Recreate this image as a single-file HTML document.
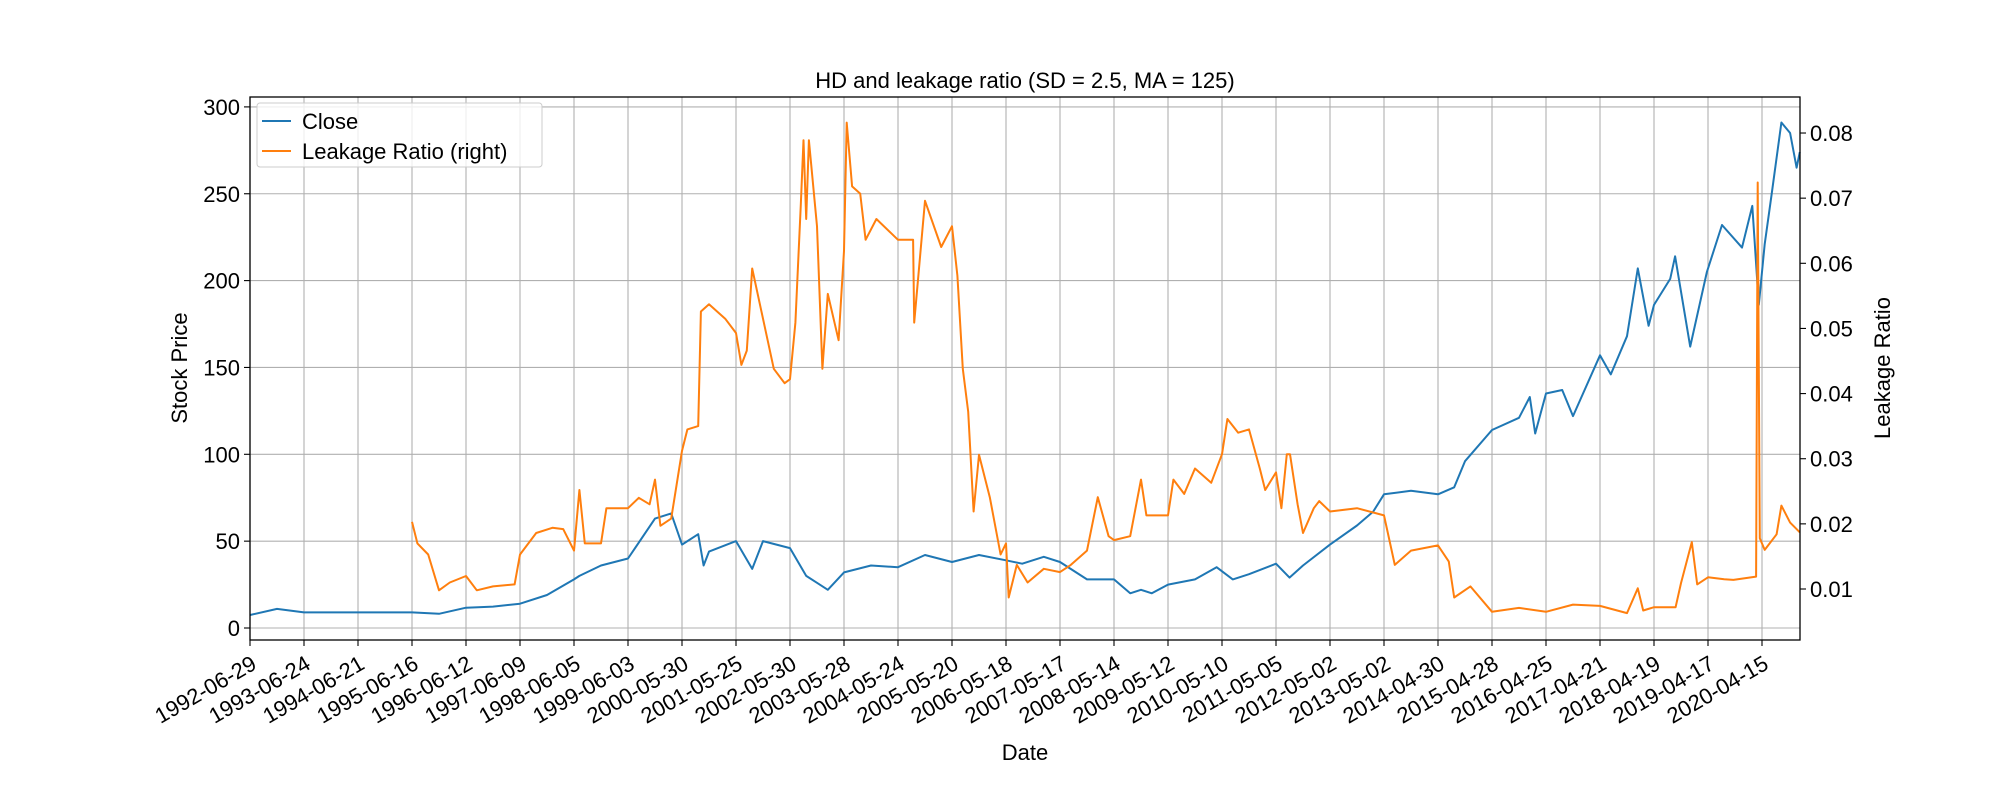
<!DOCTYPE html>
<html><head><meta charset="utf-8"><style>
body{margin:0;background:#fff;}
svg{display:block;font-family:"Liberation Sans","DejaVu Sans",sans-serif;}
</style></head><body>
<svg id="chart" width="2000" height="800"></svg>
<script>
const tickLabels=["1992-06-29","1993-06-24","1994-06-21","1995-06-16","1996-06-12","1997-06-09","1998-06-05","1999-06-03","2000-05-30","2001-05-25","2002-05-30","2003-05-28","2004-05-24","2005-05-20","2006-05-18","2007-05-17","2008-05-14","2009-05-12","2010-05-10","2011-05-05","2012-05-02","2013-05-02","2014-04-30","2015-04-28","2016-04-25","2017-04-21","2018-04-19","2019-04-17","2020-04-15"];
const leftTicks=[0,50,100,150,200,250,300];
const rightTicks=[0.01,0.02,0.03,0.04,0.05,0.06,0.07,0.08];
const closeT=[0,0.5,1,2,3,3.5,4,4.5,5,5.5,6,6.1,6.5,7,7.5,7.8,8,8.3,8.4,8.5,9,9.3,9.5,10,10.3,10.5,10.7,11,11.5,12,12.5,13,13.5,14,14.3,14.7,15,15.5,16,16.3,16.5,16.7,17,17.5,17.9,18.2,18.5,19,19.25,19.5,20,20.5,20.8,21,21.5,22,22.3,22.5,23,23.5,23.7,23.8,24,24.3,24.5,25,25.2,25.5,25.7,25.9,26,26.3,26.39,26.67,26.98,27.26,27.63,27.82,27.94,28.05,28.18,28.36,28.52,28.64,28.7];
const closeV=[7.5,11,9,9,9,8.2,11.7,12.3,14,19,28,30,36,40,63,66,48,54,36,44,50,34,50,46,30,26,22,32,36,35,42,38,42,39,37,41,38,28,28,20,22,20,25,28,35,28,31,37,29,36,48,59,67,77,79,77,81,96,114,121,133,112,135,137,122,157,146,168,207,174,186,201,214,162,205,232,219,243,186,221,250,291,285,265,274];
const leakT=[3,3.1,3.3,3.5,3.7,4,4.2,4.5,4.9,5,5.3,5.6,5.8,6,6.1,6.2,6.5,6.6,7,7.2,7.4,7.5,7.6,7.8,7.9,8,8.1,8.3,8.35,8.5,8.8,9,9.1,9.2,9.3,9.5,9.7,9.9,10,10.1,10.2,10.25,10.3,10.35,10.5,10.6,10.7,10.9,11,11.05,11.15,11.3,11.4,11.6,12,12.28,12.3,12.5,12.8,13,13.1,13.2,13.3,13.4,13.5,13.7,13.9,14,14.05,14.2,14.4,14.7,15,15.2,15.5,15.7,15.9,16,16.3,16.5,16.6,17,17.1,17.3,17.5,17.8,18,18.1,18.3,18.5,18.7,18.8,19,19.1,19.2,19.26,19.4,19.5,19.7,19.8,20,20.5,21,21.2,21.5,22,22.2,22.3,22.6,23,23.5,24,24.5,25,25.5,25.7,25.8,26,26.4,26.5,26.7,26.8,27,27.3,27.47,27.89,27.92,27.96,28.05,28.27,28.36,28.52,28.7];
const leakV=[0.0203,0.017,0.0153,0.0098,0.011,0.012,0.0098,0.0104,0.0107,0.0153,0.0186,0.0194,0.0192,0.0159,0.0252,0.017,0.017,0.0224,0.0224,0.024,0.023,0.0268,0.0197,0.0208,0.026,0.0312,0.0345,0.035,0.0526,0.0537,0.0515,0.0493,0.0444,0.0466,0.0592,0.0515,0.0438,0.0416,0.0422,0.0509,0.069,0.0789,0.0668,0.0789,0.0657,0.0438,0.0553,0.0482,0.0619,0.0816,0.0718,0.0707,0.0636,0.0668,0.0636,0.0636,0.0509,0.0696,0.0625,0.0657,0.0581,0.0438,0.0372,0.0219,0.0306,0.0241,0.0153,0.017,0.0087,0.0137,0.011,0.0131,0.0126,0.0137,0.0159,0.0241,0.0181,0.0175,0.0181,0.0268,0.0213,0.0213,0.0268,0.0246,0.0285,0.0263,0.0307,0.0361,0.034,0.0345,0.0285,0.0252,0.0279,0.0224,0.0307,0.0307,0.023,0.0186,0.0224,0.0235,0.0219,0.0224,0.0213,0.0137,0.0159,0.0167,0.0142,0.0087,0.0104,0.0065,0.0071,0.0065,0.0076,0.0074,0.0063,0.0101,0.0067,0.0072,0.0072,0.0109,0.0172,0.0107,0.0118,0.0115,0.0114,0.0119,0.0724,0.0178,0.016,0.0184,0.0228,0.0202,0.0187];

const L=250,R=1800,T=97,B=640;
const X=t=>L+t*54;
const YL=v=>628-v*1.737;
const YR=v=>589-(v-0.01)*6514;
const svg=document.getElementById('chart');
const NS='http://www.w3.org/2000/svg';
function mk(tag,attrs,parent){const e=document.createElementNS(NS,tag);for(const k in attrs)e.setAttribute(k,attrs[k]);(parent||svg).appendChild(e);return e;}

const grid=mk('g',{});


tickLabels.forEach((lab,i)=>{
  const x=X(i);
  const gl=mk('line',{x1:x,x2:x,y1:T,y2:B,stroke:'#b0b0b0','stroke-width':1.1},grid);
  
  
  mk('line',{x1:x,x2:x,y1:B,y2:B+6,stroke:'#000','stroke-width':1.1});
  const tx=mk('text',{x:x,y:B+14,'font-size':22,'text-anchor':'end',transform:`rotate(-30 ${x} ${B+14})`,'dominant-baseline':'hanging'});
  tx.textContent=lab;
  
  
});
leftTicks.forEach(v=>{
  const y=YL(v);
  const gl=mk('line',{x1:L,x2:R,y1:y,y2:y,stroke:'#b0b0b0','stroke-width':1.1},grid);
  
  
  mk('line',{x1:L-6,x2:L,y1:y,y2:y,stroke:'#000','stroke-width':1.1});
  const tx=mk('text',{x:L-10,y:y+8,'font-size':22,'text-anchor':'end'});
  tx.textContent=String(v);
  
  
});
rightTicks.forEach(v=>{
  const y=YR(v);
  mk('line',{x1:R,x2:R+6,y1:y,y2:y,stroke:'#000','stroke-width':1.1});
  const tx=mk('text',{x:R+10,y:y+8,'font-size':22,'text-anchor':'start'});
  tx.textContent=v.toFixed(2);
  
  
});

const cp=mk('path',{d:closeT.map((t,i)=>(i?'L':'M')+X(t).toFixed(1)+','+YL(closeV[i]).toFixed(1)).join(''),fill:'none',stroke:'#1f77b4','stroke-width':2,'stroke-linejoin':'round'});


const lp=mk('path',{d:leakT.map((t,i)=>(i?'L':'M')+X(t).toFixed(1)+','+YR(leakV[i]).toFixed(1)).join(''),fill:'none',stroke:'#ff7f0e','stroke-width':2,'stroke-linejoin':'round'});



const fr=mk('rect',{x:L,y:T,width:R-L,height:B-T,fill:'none',stroke:'#000','stroke-width':1.3});



function txt(s,attrs,name){const t=mk('text',attrs);t.textContent=s;return t;}
txt('HD and leakage ratio (SD = 2.5, MA = 125)',{x:1025,y:88,'font-size':22,'text-anchor':'middle'},'chart-title');
txt('Date',{x:1025,y:760,'font-size':22,'text-anchor':'middle'},'x-axis-title');
txt('Stock Price',{x:187,y:368,'font-size':22,'text-anchor':'middle',transform:'rotate(-90 187 368)'},'left-y-axis-title');
txt('Leakage Ratio',{x:1890,y:368,'font-size':22,'text-anchor':'middle',transform:'rotate(-90 1890 368)'},'right-y-axis-title');

const lg=mk('g',{});


mk('rect',{x:257,y:103,width:285,height:64,rx:3,fill:'#fff','fill-opacity':0.8,stroke:'#ccc','stroke-width':1},lg);
mk('line',{x1:262,x2:291,y1:121,y2:121,stroke:'#1f77b4','stroke-width':2},lg);
mk('line',{x1:262,x2:291,y1:151,y2:151,stroke:'#ff7f0e','stroke-width':2},lg);
const e1=mk('text',{x:302,y:129,'font-size':22},lg);e1.textContent='Close';


const e2=mk('text',{x:302,y:159,'font-size':22},lg);e2.textContent='Leakage Ratio (right)';


</script>
</body></html>
